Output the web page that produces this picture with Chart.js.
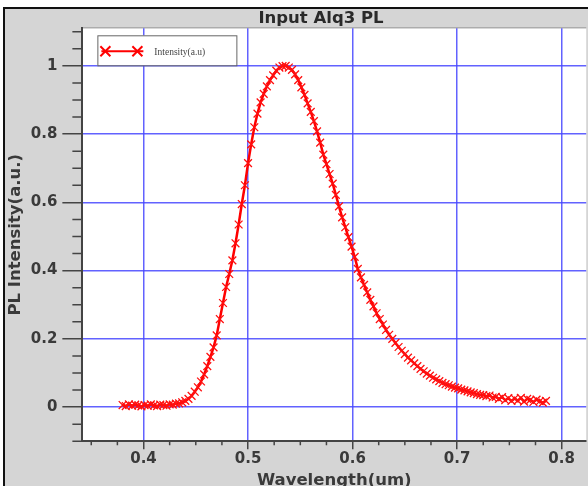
<!DOCTYPE html>
<html>
<head>
<meta charset="utf-8">
<script src="https://cdn.jsdelivr.net/npm/chart.js@4.4.1/dist/chart.umd.min.js"></script>
<style>
  html, body { margin: 0; padding: 0; overflow: hidden; background: #fff; }
  #wrap { position: relative; width: 593px; height: 491px; }
</style>
</head>
<body>
<div id="wrap"><canvas id="plChart"></canvas></div>
<script>
// wavelength (um) and normalised PL intensity
const wavelength = [
  0.380, 0.383, 0.386, 0.389, 0.392, 0.395, 0.398, 0.401, 0.404, 0.407,
  0.410, 0.413, 0.416, 0.419, 0.422, 0.425, 0.428, 0.431, 0.434, 0.437,
  0.440, 0.443, 0.446, 0.449, 0.452, 0.455, 0.458, 0.461, 0.464, 0.467,
  0.470, 0.473, 0.476, 0.479, 0.482, 0.485, 0.488, 0.491, 0.494, 0.497,
  0.500, 0.503, 0.506, 0.509, 0.512, 0.515, 0.518, 0.521, 0.524, 0.527,
  0.530, 0.533, 0.536, 0.539, 0.542, 0.545, 0.548, 0.551, 0.554, 0.557,
  0.560, 0.563, 0.566, 0.569, 0.572, 0.575, 0.578, 0.581, 0.584, 0.587,
  0.590, 0.593, 0.596, 0.599, 0.602, 0.605, 0.608, 0.611, 0.614, 0.617,
  0.620, 0.623, 0.626, 0.629, 0.632, 0.635, 0.638, 0.641, 0.644, 0.647,
  0.650, 0.653, 0.656, 0.659, 0.662, 0.665, 0.668, 0.671, 0.674, 0.677,
  0.680, 0.683, 0.686, 0.689, 0.692, 0.695, 0.698, 0.701, 0.704, 0.707,
  0.710, 0.713, 0.716, 0.719, 0.722, 0.725, 0.728, 0.731, 0.734, 0.737,
  0.740, 0.743, 0.746, 0.749, 0.752, 0.755, 0.758, 0.761, 0.764, 0.767,
  0.770, 0.773, 0.776, 0.779, 0.782, 0.785
];
const intensity = [
  0.006, 0.003, 0.008, 0.004, 0.007, 0.005, 0.002, 0.006, 0.004, 0.008,
  0.005, 0.003, 0.007, 0.006, 0.004, 0.008, 0.007, 0.010, 0.011, 0.014,
  0.018, 0.024, 0.033, 0.045, 0.058, 0.075, 0.096, 0.120, 0.147, 0.175,
  0.210, 0.258, 0.305, 0.352, 0.390, 0.430, 0.480, 0.535, 0.595, 0.650,
  0.715, 0.770, 0.820, 0.860, 0.893, 0.918, 0.940, 0.958, 0.972, 0.986,
  0.995, 0.999, 1.000, 0.995, 0.988, 0.975, 0.958, 0.937, 0.915, 0.890,
  0.865, 0.838, 0.808, 0.775, 0.740, 0.712, 0.683, 0.655, 0.622, 0.588,
  0.556, 0.527, 0.498, 0.470, 0.440, 0.405, 0.380, 0.358, 0.336, 0.314,
  0.295, 0.275, 0.258, 0.242, 0.226, 0.212, 0.200, 0.188, 0.176, 0.165,
  0.155, 0.145, 0.137, 0.128, 0.120, 0.112, 0.105, 0.098, 0.092, 0.086,
  0.081, 0.076, 0.071, 0.067, 0.064, 0.060, 0.057, 0.055, 0.051, 0.049,
  0.046, 0.043, 0.041, 0.038, 0.036, 0.035, 0.032, 0.034, 0.028, 0.030,
  0.024, 0.029, 0.020, 0.026, 0.018, 0.025, 0.019, 0.027, 0.016, 0.024,
  0.021, 0.015, 0.022, 0.017, 0.013, 0.018
];
const xMajor = [0.4, 0.5, 0.6, 0.7, 0.8];
const yMajor = [0, 0.2, 0.4, 0.6, 0.8, 1];

const seriesLabel = 'Intensity(a.u)';
const gridBlue = 'rgba(70,70,255,0.85)';
const axisGrey = '#444';
const textGrey = '#3a3a3a';

const isIn = (list, v) => list.some(m => Math.abs(m - v) < 1e-6);

const points = wavelength.map((w, i) => ({ x: w, y: intensity[i] }));

// grey window frame + white plot area
const framePlugin = {
  id: 'frame',
  beforeDraw(chart) {
    const { ctx, width, height, chartArea: a } = chart;
    ctx.save();
    ctx.fillStyle = '#fff';
    ctx.fillRect(0, 0, width, height);
    ctx.fillStyle = '#d5d5d5';
    ctx.fillRect(5, 9, width, height);
    ctx.fillStyle = '#111';
    ctx.fillRect(3, 7, width, 2);
    ctx.fillRect(3, 7, 2, height);
    ctx.fillStyle = '#fff';
    ctx.fillRect(a.left, a.top, a.right - a.left, a.bottom - a.top);
    ctx.fillStyle = '#9a9a9a';
    ctx.fillRect(a.left, a.top - 1, a.right - a.left, 1);
    ctx.restore();
  },
  afterLayout(chart) {
    // title sits a bit right of the canvas centre in the original
    if (chart.titleBlock) {
      chart.titleBlock.left = 54;
      chart.titleBlock.right = 588;
    }
  }
};

// short minor ticks
const minorTicks = {
  id: 'minorTicks',
  afterDraw(chart) {
    const { ctx, chartArea: a } = chart;
    const xs = chart.scales.x, ys = chart.scales.y;
    ctx.save();
    ctx.strokeStyle = axisGrey;
    ctx.lineWidth = 1.5;
    ctx.beginPath();
    xs.ticks.forEach(t => {
      if (isIn(xMajor, t.value)) return;
      const px = xs.getPixelForValue(t.value);
      ctx.moveTo(px, a.bottom);
      ctx.lineTo(px, a.bottom + 4);
    });
    ys.ticks.forEach(t => {
      if (isIn(yMajor, t.value)) return;
      const py = ys.getPixelForValue(t.value);
      ctx.moveTo(a.left, py);
      ctx.lineTo(a.left - 10, py);
    });
    ctx.stroke();
    ctx.restore();
  }
};

// boxed legend in the upper left corner
const boxLegend = {
  id: 'boxLegend',
  afterDraw(chart) {
    const { ctx, chartArea: a } = chart;
    const ds = chart.data.datasets[0];
    const bx = a.left + 15, by = a.top + 7, bw = 139, bh = 30;
    ctx.save();
    ctx.fillStyle = '#fff';
    ctx.fillRect(bx, by, bw, bh);
    ctx.strokeStyle = '#666';
    ctx.lineWidth = 1;
    ctx.strokeRect(bx + 0.5, by + 0.5, bw, bh);
    const ly = by + 16;
    ctx.strokeStyle = ds.borderColor;
    ctx.lineWidth = 2;
    ctx.beginPath();
    ctx.moveTo(bx + 4, ly);
    ctx.lineTo(bx + 46, ly);
    ctx.stroke();
    [bx + 8, bx + 40].forEach(cx => {
      ctx.beginPath();
      ctx.moveTo(cx - 5, ly - 5); ctx.lineTo(cx + 5, ly + 5);
      ctx.moveTo(cx - 5, ly + 5); ctx.lineTo(cx + 5, ly - 5);
      ctx.stroke();
    });
    ctx.fillStyle = '#444';
    ctx.font = '9.5px "Liberation Serif"';
    ctx.textBaseline = 'middle';
    ctx.fillText(ds.label, bx + 57, ly + 1);
    ctx.restore();
  }
};

Chart.defaults.font.family = '"DejaVu Sans", sans-serif';

const ctx = document.getElementById('plChart').getContext('2d');
const plChart = new Chart(ctx, {
  type: 'line',
  data: {
    datasets: [{
      label: seriesLabel,
      data: points,
      borderColor: '#ff0000',
      backgroundColor: '#ff0000',
      borderWidth: 2.5,
      pointStyle: 'crossRot',
      pointRadius: 5.5,
      pointBorderWidth: 1.3,
      pointBorderColor: '#ff1010',
      tension: 0,
      fill: false
    }]
  },
  options: {
    responsive: true,
    maintainAspectRatio: false,
    animation: false,
    layout: { padding: 0 },
    plugins: {
      legend: { display: false },
      tooltip: { enabled: false },
      title: {
        display: true,
        text: 'Input Alq3 PL',
        color: '#2a2a2a',
        font: { size: 16.5, weight: 'bold' },
        padding: { top: 8.5, bottom: 0 }
      }
    },
    scales: {
      x: {
        type: 'linear',
        min: 0.3415,
        max: 0.8235,
        border: { display: true, color: axisGrey, width: 2 },
        grid: {
          color: c => isIn(xMajor, c.tick.value) ? gridBlue : 'rgba(0,0,0,0)',
          lineWidth: 1.5,
          tickLength: 8,
          tickWidth: 1.5,
          tickColor: c => isIn(xMajor, c.tick.value) ? axisGrey : 'rgba(0,0,0,0)'
        },
        ticks: {
          stepSize: 0.025,
          includeBounds: false,
          autoSkip: false,
          maxRotation: 0,
          padding: 1,
          color: textGrey,
          font: { size: 15, weight: 'bold' },
          callback: v => isIn(xMajor, v) ? String(Number(v.toFixed(2))) : ''
        },
        title: {
          display: true,
          text: 'Wavelength(um)',
          color: textGrey,
          font: { size: 16.5, weight: 'bold' },
          padding: { top: 2, bottom: 0 }
        }
      },
      y: {
        min: -0.1,
        max: 1.11,
        border: { display: true, color: axisGrey, width: 2 },
        grid: {
          color: c => isIn(yMajor, c.tick.value) ? gridBlue : 'rgba(0,0,0,0)',
          lineWidth: 1.5,
          tickLength: 20,
          tickWidth: 1.5,
          tickColor: c => isIn(yMajor, c.tick.value) ? axisGrey : 'rgba(0,0,0,0)'
        },
        ticks: {
          stepSize: 0.05,
          includeBounds: false,
          autoSkip: false,
          padding: 5,
          color: textGrey,
          font: { size: 15, weight: 'bold' },
          callback: v => isIn(yMajor, v) ? String(Number(v.toFixed(2))) : ''
        },
        title: {
          display: true,
          text: 'PL Intensity(a.u.)',
          color: textGrey,
          font: { size: 16.5, weight: 'bold' },
          padding: { top: 6, bottom: 0 }
        }
      }
    }
  },
  plugins: [framePlugin, minorTicks, boxLegend]
});
</script>
</body>
</html>
